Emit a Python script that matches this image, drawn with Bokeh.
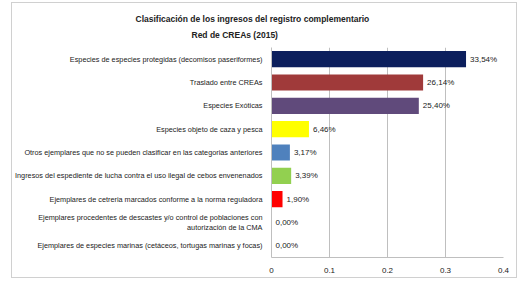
from bokeh.plotting import figure
from bokeh.models import Title, FixedTicker, NumeralTickFormatter, ColumnDataSource
from bokeh.core.properties import value
from bokeh.embed import file_html
from bokeh.resources import INLINE

categories = [
    "Especies de especies protegidas (decomisos paseriformes)",
    "Traslado entre CREAs",
    "Especies Exóticas",
    "Especies objeto de caza y pesca",
    "Otros ejemplares que no se pueden clasificar en las categorias anteriores",
    "Ingresos del espediente de lucha contra el uso ilegal de cebos envenenados",
    "Ejemplares de cetreria marcados conforme a la norma reguladora",
    "Ejemplares procedentes de descastes y/o control de poblaciones con\nautorización de la CMA",
    "Ejemplares de especies marinas (cetáceos, tortugas marinas y focas)",
]
values = [0.3354, 0.2614, 0.2540, 0.0646, 0.0317, 0.0339, 0.0190, 0.0, 0.0]
value_labels = ["33,54%", "26,14%", "25,40%", "6,46%", "3,17%", "3,39%", "1,90%", "0,00%", "0,00%"]
colors = ["#0c1f5d", "#a03a3a", "#604a7b", "#ffff00", "#4f81bd", "#92d050", "#ff0000", "#ffffff", "#ffffff"]
x_ticks = [0, 0.1, 0.2, 0.3, 0.4]
title_1 = "Clasificación de los ingresos del registro complementario"
title_2 = "Red de CREAs (2015)"

FONT = "Liberation Sans"

src = ColumnDataSource(dict(cat=categories, val=values, lab=value_labels, col=colors))

p = figure(width=506, height=276, y_range=list(reversed(categories)), x_range=(0, 0.4),
           output_backend="svg", toolbar_location=None,
           min_border_left=257, min_border_right=15, min_border_top=44, min_border_bottom=22)

p.add_layout(Title(text=title_2, align="left", offset=-80, text_font_size="8.5px", standoff=11,
                   vertical_align="top",
                   text_font=FONT, text_font_style="bold", text_color="#222222"), "above")
p.add_layout(Title(text=title_1, align="left", offset=-136, text_font_size="8.5px", standoff=1,
                   text_font=FONT, text_font_style="bold", text_color="#222222"), "above")

p.hbar(y="cat", right="val", left=0, height=0.69, color="col", line_color=None, source=src)
p.text(x="val", y="cat", text="lab", x_offset=4, text_baseline="middle", text_align="left",
       text_font_size="8px", text_font=value(FONT), text_color="#222222", source=src)

p.outline_line_color = None
p.styles = {"border": "1px solid #d0d0d0", "margin-left": "11px", "margin-top": "2px"}
p.ygrid.grid_line_color = None
p.xgrid.grid_line_color = "#bfbfbf"
p.xaxis.ticker = FixedTicker(ticks=x_ticks)
p.xaxis.formatter = NumeralTickFormatter(format="0.[0]")
for ax in (p.xaxis, p.yaxis):
    ax.axis_line_color = "#bfbfbf"
    ax.major_tick_line_color = None
    ax.minor_tick_line_color = None
    ax.major_label_text_font = FONT
    ax.major_label_text_font_size = "7.3px"
    ax.major_label_text_color = "#222222"
p.xaxis.major_label_text_font_size = "8px"
p.yaxis.major_label_standoff = 3
p.xaxis.major_label_standoff = 4

open("out.html", "w").write(file_html(p, INLINE))
